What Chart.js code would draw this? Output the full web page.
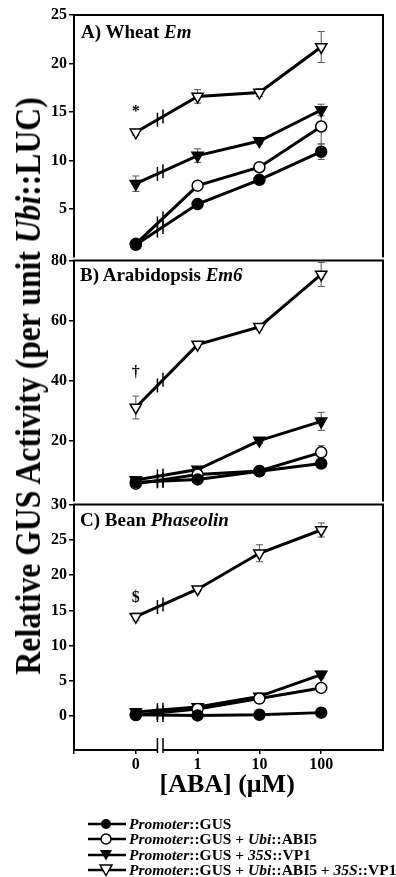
<!DOCTYPE html>
<html lang="en">
  <head>
    <meta charset="UTF-8" />
    <title>Relative GUS Activity vs ABA</title>
    <script src="https://cdn.jsdelivr.net/npm/chart.js"></script>
    <style>
      body {
        margin: 0;
        background: #fff;
        font-family: "Liberation Serif", "Times New Roman", serif;
      }
      #page {
        position: relative;
        width: 396px;
        height: 877px;
        overflow: hidden;
      }
      canvas {
        position: absolute;
        left: 0;
      }
      .lbl {
        position: absolute;
        left: 80px;
        font-weight: bold;
        font-size: 19px;
        line-height: 1;
        white-space: nowrap;
      }
      #ytitle, #xtitle {
        position: absolute;
        left: 0;
        top: 0;
        font-weight: bold;
        line-height: 1;
        white-space: nowrap;
        transform-origin: 0 0;
      }
      #ytitle { font-size: 36px; }
      #xtitle { font-size: 26px; }
      .row {
        position: absolute;
        left: 88px;
        height: 15px;
        display: flex;
        align-items: center;
        font-weight: bold;
        font-size: 15.5px;
        white-space: nowrap;
      }
      .row svg { margin-right: 3px; }
    </style>
  </head>
  <body>
    <div id="page">
      <canvas id="chartA" width="396" height="269" style="top:0"></canvas>
      <canvas id="chartB" width="396" height="264" style="top:249px"></canvas>
      <canvas id="chartC" width="396" height="297" style="top:493px"></canvas>

      <div class="lbl" style="top:22px;left:81px">A) Wheat <i>Em</i></div>
      <div class="lbl" style="top:265px">B) Arabidopsis <i>Em6</i></div>
      <div class="lbl" style="top:510px">C) Bean <i>Phaseolin</i></div>

      <div id="ytitle">Relative GUS Activity (per unit <i>Ubi</i>::LUC)</div>
      <div id="xtitle">[ABA] (&mu;M)</div>

      <div class="row" style="top:816px">
        <svg width="38" height="14"><line x1="0" y1="7" x2="38" y2="7" stroke="#000" stroke-width="2.5"/><circle cx="18" cy="7" r="5" fill="#000"/></svg>
        <span><i>Promoter</i>::GUS</span>
      </div>
      <div class="row" style="top:831px">
        <svg width="38" height="14"><line x1="0" y1="7" x2="38" y2="7" stroke="#000" stroke-width="2.5"/><circle cx="18" cy="7" r="5" fill="#fff" stroke="#000" stroke-width="1.5"/></svg>
        <span><i>Promoter</i>::GUS + <i>Ubi</i>::ABI5</span>
      </div>
      <div class="row" style="top:847px">
        <svg width="38" height="14"><line x1="0" y1="7" x2="38" y2="7" stroke="#000" stroke-width="2.5"/><polygon points="12,2 24,2 18,12.5" fill="#000"/></svg>
        <span><i>Promoter</i>::GUS + <i>35S</i>::VP1</span>
      </div>
      <div class="row" style="top:862px">
        <svg width="38" height="14"><line x1="0" y1="7" x2="38" y2="7" stroke="#000" stroke-width="2.5"/><polygon points="12,2 24,2 18,12.5" fill="#fff" stroke="#000" stroke-width="1.5"/></svg>
        <span><i>Promoter</i>::GUS + <i>Ubi</i>::ABI5 + <i>35S</i>::VP1</span>
      </div>
    </div>

    <script>
      // ABA doses (categories) and their positions on the x axis
      var doses = ["0", "1", "10", "100"];
      var xPos = [0, 1, 2, 3];
      var seriesNames = [
        "Promoter::GUS",
        "Promoter::GUS + Ubi::ABI5",
        "Promoter::GUS + 35S::VP1",
        "Promoter::GUS + Ubi::ABI5 + 35S::VP1"
      ];

      // A) Wheat Em
      var emGus = [1.3, 5.5, 8.0, 10.9];
      var emAbi5 = [1.4, 7.4, 9.3, 13.5];
      var emVp1 = [7.6, 10.5, 12.0, 15.2];
      var emBoth = [12.9, 16.6, 17.0, 21.7];
      var emGusErr = [0.1, 0.2, 0.2, 0.8];
      var emAbi5Err = [0.2, 0.3, 0.3, 1.8];
      var emVp1Err = [0.8, 0.7, 0.3, 0.6];
      var emBothErr = [0.3, 0.7, 0.4, 1.6];
      var emTicks = [5, 10, 15, 20, 25];

      // B) Arabidopsis Em6
      var em6Gus = [6.4, 7.3, 10.0, 12.6];
      var em6Abi5 = [5.9, 8.9, 10.1, 16.3];
      var em6Vp1 = [7.1, 10.6, 20.2, 26.6];
      var em6Both = [31.2, 52.1, 58.0, 75.4];
      var em6GusErr = [0.5, 0.5, 0.5, 1.2];
      var em6Abi5Err = [0.5, 0.6, 0.6, 2.2];
      var em6Vp1Err = [0.6, 0.7, 1.0, 3.0];
      var em6BothErr = [3.8, 1.0, 1.0, 4.0];
      var em6Ticks = [20, 40, 60, 80];

      // C) Bean Phaseolin
      var phasGus = [0.2, 0.1, 0.2, 0.5];
      var phasAbi5 = [0.15, 1.0, 2.5, 4.0];
      var phasVp1 = [0.6, 1.3, 2.8, 5.9];
      var phasBoth = [14.1, 18.0, 23.1, 26.4];
      var phasGusErr = [0.1, 0.1, 0.1, 0.2];
      var phasAbi5Err = [0.1, 0.2, 0.3, 0.4];
      var phasVp1Err = [0.2, 0.2, 0.4, 0.5];
      var phasBothErr = [0.5, 0.3, 1.2, 1.0];
      var phasTicks = [0, 5, 10, 15, 20, 25, 30];

      var serif = "'Liberation Serif', 'Times New Roman', serif";
      var markers = [
        { shape: "circle", rot: 0, r: 5.5, fill: "#000" },
        { shape: "circle", rot: 0, r: 5.5, fill: "#fff" },
        { shape: "triangle", rot: 180, r: 6.5, fill: "#000" },
        { shape: "triangle", rot: 180, r: 6.5, fill: "#fff" }
      ];
      var breakAt = [0.35, 0.44];

      // error bars, axis breaks, frame and significance marks
      var panelPlugin = {
        id: "panel",
        beforeDatasetsDraw: function(chart) {
          var ctx = chart.ctx;
          var y = chart.scales.y;
          ctx.save();
          ctx.strokeStyle = "#555";
          ctx.lineWidth = 1;
          chart.data.datasets.forEach(function(ds, i) {
            var meta = chart.getDatasetMeta(i);
            meta.data.forEach(function(pt, j) {
              var v = ds.data[j].y, e = ds.errors[j];
              var top = y.getPixelForValue(v + e), bot = y.getPixelForValue(v - e);
              ctx.beginPath();
              ctx.moveTo(pt.x, top); ctx.lineTo(pt.x, bot);
              ctx.moveTo(pt.x - 3.5, top); ctx.lineTo(pt.x + 3.5, top);
              ctx.moveTo(pt.x - 3.5, bot); ctx.lineTo(pt.x + 3.5, bot);
              ctx.stroke();
            });
          });
          ctx.restore();
        },
        afterDatasetsDraw: function(chart, args, opts) {
          var ctx = chart.ctx;
          var x = chart.scales.x, y = chart.scales.y;
          var a = chart.chartArea;
          ctx.save();
          // "||" breaks across each line between 0 and 1
          ctx.strokeStyle = "#000";
          ctx.lineWidth = 1.5;
          chart.data.datasets.forEach(function(ds, i) {
            var p = chart.getDatasetMeta(i).data;
            breakAt.forEach(function(bx) {
              var px = x.getPixelForValue(bx);
              var t = (px - p[0].x) / (p[1].x - p[0].x);
              var py = p[0].y + t * (p[1].y - p[0].y);
              ctx.beginPath();
              ctx.moveTo(px, py - 7); ctx.lineTo(px, py + 7);
              ctx.stroke();
            });
          });
          // frame (the panel below draws the shared edge)
          ctx.lineWidth = 2;
          ctx.beginPath();
          ctx.moveTo(a.left, a.bottom); ctx.lineTo(a.left, a.top);
          ctx.lineTo(a.right, a.top); ctx.lineTo(a.right, a.bottom);
          if (opts.xBreak) {
            var b0 = x.getPixelForValue(breakAt[0]), b1 = x.getPixelForValue(breakAt[1]);
            ctx.lineTo(b1, a.bottom);
            ctx.moveTo(b0, a.bottom); ctx.lineTo(a.left, a.bottom);
            ctx.stroke();
            ctx.lineWidth = 1.5;
            ctx.beginPath();
            [b0, b1].forEach(function(bx) {
              ctx.moveTo(bx, a.bottom - 12); ctx.lineTo(bx, a.bottom + 3);
            });
          }
          ctx.stroke();
          // significance mark above the 0 dose
          ctx.fillStyle = "#000";
          ctx.font = "bold 16px " + serif;
          ctx.textAlign = "center";
          ctx.textBaseline = "middle";
          ctx.fillText(opts.mark, x.getPixelForValue(0), y.getPixelForValue(opts.markY));
          ctx.restore();
        }
      };

      function makePanel(id, means, errs, ticks, yMin, yMax, pad, mark, markY, showX) {
        var datasets = means.map(function(m, i) {
          return {
            label: seriesNames[i],
            data: m.map(function(v, j) { return { x: xPos[j], y: v }; }),
            errors: errs[i],
            borderColor: "#000",
            borderWidth: 3,
            pointStyle: markers[i].shape,
            rotation: markers[i].rot,
            pointRadius: markers[i].r,
            pointBackgroundColor: markers[i].fill,
            pointBorderColor: "#000",
            pointBorderWidth: 1.5,
            tension: 0
          };
        });
        var tickGrid = { display: true, drawOnChartArea: false, drawTicks: true, color: "#000", lineWidth: 1.5 };
        var xScale = {
          type: "linear",
          min: -1,
          max: 4,
          display: showX,
          afterBuildTicks: function(s) {
            s.ticks = [-1].concat(xPos).map(function(v) { return { value: v }; });
          },
          grid: Object.assign({ tickLength: 4 }, tickGrid),
          border: { display: false },
          ticks: {
            autoSkip: false,
            maxRotation: 0,
            padding: 1,
            color: "#000",
            font: { family: serif, size: 16, weight: "bold" },
            callback: function(v) { var k = xPos.indexOf(v); return k < 0 ? "" : doses[k]; }
          }
        };
        if (showX) {
          xScale.afterFit = function(s) { s.height = 40; };
        }
        return new Chart(document.getElementById(id), {
          type: "line",
          data: { datasets: datasets },
          plugins: [panelPlugin],
          options: {
            responsive: false,
            animation: false,
            layout: { padding: pad },
            plugins: {
              legend: { display: false },
              tooltip: { enabled: false },
              panel: { mark: mark, markY: markY, xBreak: showX }
            },
            scales: {
              x: xScale,
              y: {
                min: yMin,
                max: yMax,
                afterBuildTicks: function(s) {
                  s.ticks = ticks.map(function(v) { return { value: v }; });
                },
                afterFit: function(s) { s.width = 74; },
                grid: Object.assign({ tickLength: 5 }, tickGrid),
                border: { display: false },
                ticks: {
                  padding: 2,
                  color: "#000",
                  font: { family: serif, size: 16, weight: "bold" }
                }
              }
            }
          }
        });
      }

      makePanel("chartA", [emGus, emAbi5, emVp1, emBoth], [emGusErr, emAbi5Err, emVp1Err, emBothErr],
        emTicks, 0, 25, { top: 15, bottom: 10, left: 0, right: 13 }, "*", 15.0, false);
      makePanel("chartB", [em6Gus, em6Abi5, em6Vp1, em6Both], [em6GusErr, em6Abi5Err, em6Vp1Err, em6BothErr],
        em6Ticks, 0, 80, { top: 10, bottom: 10, left: 0, right: 13 }, "\u2020", 42.6, false);
      makePanel("chartC", [phasGus, phasAbi5, phasVp1, phasBoth], [phasGusErr, phasAbi5Err, phasVp1Err, phasBothErr],
        phasTicks, -4.8, 30, { top: 10, bottom: 0, left: 0, right: 13 }, "$", 16.8, true);

      // place the axis titles (y title stretched to the reference length)
      function place(el, cx, cy, rot, len) {
        var w = el.offsetWidth, h = el.offsetHeight;
        var sx = len ? len / w : 1;
        el.style.transform = "translate(" + cx + "px," + cy + "px) rotate(" + rot + "deg) scale(" + sx + ",1) translate(" + (-w / 2) + "px," + (-h / 2) + "px)";
      }
      place(document.getElementById("ytitle"), 28, 386, -90, 577);
      place(document.getElementById("xtitle"), 227, 784, 0, 0);
    </script>
  </body>
</html>
